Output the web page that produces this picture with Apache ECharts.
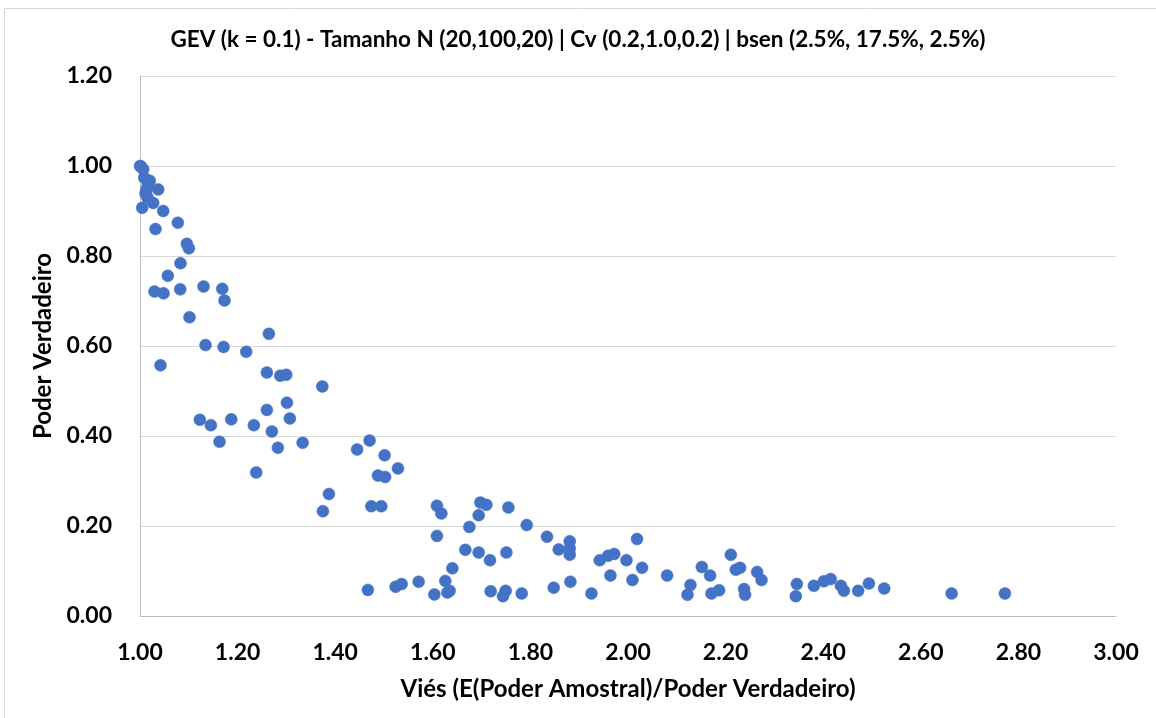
<!DOCTYPE html>
<html>
<head>
<meta charset="utf-8">
<title>GEV (k = 0.1) - Viés vs Poder Verdadeiro</title>
<script src="https://cdn.jsdelivr.net/npm/echarts@6/dist/echarts.min.js"></script>
<style>
  html, body { margin: 0; padding: 0; background: #ffffff; }
  #chart { width: 1156px; height: 718px; }
</style>
</head>
<body>
<div id="chart"></div>
<script>
// Bias ratio E(sample power)/true power for each simulated scenario
const vies = [
  1.000, 1.002, 1.0066, 1.0086, 1.0201, 1.016, 1.0133, 1.0373, 1.0113, 1.0154,
  1.0271, 1.0045, 1.0476, 1.0775, 1.0318, 1.0960, 1.1001, 1.0830, 1.0570, 1.0297,
  1.0482, 1.0824, 1.1302, 1.1685, 1.1732, 1.1015, 1.2641, 1.1343, 1.1712, 1.2177,
  1.0420, 1.2600, 1.2874, 1.2997, 1.3736, 1.3010, 1.2600, 1.3071, 1.1226, 1.1452,
  1.1870, 1.2333, 1.2702, 1.1630, 1.2825, 1.3332, 1.4449, 1.4705, 1.5013, 1.5286,
  1.2382, 1.4876, 1.5023, 1.3871, 1.3748, 1.4740, 1.4945, 1.6085, 1.6175, 1.6975,
  1.7098, 1.6940, 1.7549, 1.6749, 1.7924, 1.6085, 1.8340, 1.6667, 1.6940, 1.7172,
  1.7508, 1.8580, 1.8806, 1.8806, 1.8806, 1.9421, 1.9591, 1.9718, 1.9640, 1.6401,
  1.6257, 1.4670, 1.5238, 1.5361, 1.5710, 1.6032, 1.6298, 1.6345, 1.7186, 1.7494,
  1.7438, 1.7822, 1.8478, 1.8820, 1.9251, 1.9968, 2.0185, 2.0091, 2.0288, 2.0801,
  2.1280, 2.1219, 2.1512, 2.1682, 2.1711, 2.1867, 2.2107, 2.2209, 2.2297, 2.2379,
  2.2400, 2.2646, 2.2736, 2.3460, 2.3439, 2.3809, 2.4014, 2.4153, 2.4362, 2.4424,
  2.4717, 2.4936, 2.5250, 2.6632, 2.7724
];

// True power for the same scenarios
const poderVerdadeiro = [
  1.000, 0.999, 0.993, 0.974, 0.967, 0.958, 0.948, 0.948, 0.939, 0.930,
  0.918, 0.907, 0.900, 0.874, 0.860, 0.827, 0.817, 0.784, 0.756, 0.721,
  0.717, 0.726, 0.732, 0.727, 0.701, 0.664, 0.627, 0.602, 0.598, 0.587,
  0.557, 0.541, 0.534, 0.536, 0.510, 0.474, 0.458, 0.439, 0.436, 0.424,
  0.437, 0.424, 0.410, 0.387, 0.374, 0.385, 0.370, 0.390, 0.357, 0.328,
  0.319, 0.312, 0.309, 0.271, 0.233, 0.244, 0.244, 0.245, 0.228, 0.252,
  0.247, 0.224, 0.241, 0.198, 0.202, 0.178, 0.176, 0.147, 0.141, 0.124,
  0.141, 0.148, 0.166, 0.150, 0.136, 0.124, 0.134, 0.138, 0.090, 0.106,
  0.078, 0.058, 0.065, 0.071, 0.076, 0.048, 0.052, 0.056, 0.055, 0.056,
  0.044, 0.050, 0.063, 0.076, 0.050, 0.124, 0.171, 0.080, 0.107, 0.090,
  0.069, 0.047, 0.109, 0.090, 0.050, 0.057, 0.136, 0.103, 0.107, 0.060,
  0.047, 0.098, 0.080, 0.071, 0.044, 0.067, 0.077, 0.082, 0.067, 0.056,
  0.056, 0.072, 0.061, 0.050, 0.050
];

const tituloGrafico = 'GEV (k = 0.1) - Tamanho N (20,100,20) | Cv (0.2,1.0,0.2) | bsen (2.5%, 17.5%, 2.5%)';
const nomeEixoX = 'Viés (E(Poder Amostral)/Poder Verdadeiro)';
const nomeEixoY = 'Poder Verdadeiro';

const pontos = vies.map((v, i) => [v, poderVerdadeiro[i]]);

const fonte = 'Lato, "Open Sans", sans-serif';
const chart = echarts.init(document.getElementById('chart'), null, { renderer: 'canvas' });

chart.setOption({
  backgroundColor: '#ffffff',
  animation: false,
  title: {
    text: tituloGrafico,
    left: 'center',
    top: 23,
    textStyle: { fontFamily: fonte, fontSize: 22.5, fontWeight: 'bold', color: '#000000' }
  },
  graphic: [{
    type: 'rect',
    shape: { x: 4.5, y: 8.5, width: 1160, height: 720 },
    style: { fill: 'none', stroke: '#d9d9d9', lineWidth: 1 },
    silent: true
  }],
  grid: { left: 140, right: 40, top: 76, bottom: 102, containLabel: false },
  xAxis: {
    type: 'value',
    min: 1,
    max: 3,
    interval: 0.2,
    name: nomeEixoX,
    nameLocation: 'middle',
    nameGap: 61,
    nameTextStyle: { fontFamily: fonte, fontSize: 24, fontWeight: 'bold', color: '#000000' },
    axisLine: { show: true, lineStyle: { color: '#bfbfbf', width: 1 } },
    axisTick: { show: false },
    splitLine: { show: false },
    axisLabel: {
      margin: 25,
      fontFamily: fonte, fontSize: 23, fontWeight: 'bold', color: '#000000',
      formatter: v => v.toFixed(2)
    }
  },
  yAxis: {
    type: 'value',
    min: 0,
    max: 1.2,
    interval: 0.2,
    name: nomeEixoY,
    nameLocation: 'middle',
    nameGap: 84,
    nameTextStyle: { fontFamily: fonte, fontSize: 24, fontWeight: 'bold', color: '#000000' },
    axisLine: { show: true, lineStyle: { color: '#bfbfbf', width: 1 } },
    axisTick: { show: false },
    splitLine: { show: true, lineStyle: { color: '#d9d9d9', width: 1 } },
    axisLabel: {
      margin: 28,
      fontFamily: fonte, fontSize: 23, fontWeight: 'bold', color: '#000000',
      formatter: v => v.toFixed(2)
    }
  },
  series: [{
    type: 'scatter',
    data: pontos,
    symbol: 'circle',
    symbolSize: 12,
    itemStyle: { color: '#4472C4', borderColor: '#4472C4', borderWidth: 0.5, opacity: 1 }
  }]
});
</script>
</body>
</html>
